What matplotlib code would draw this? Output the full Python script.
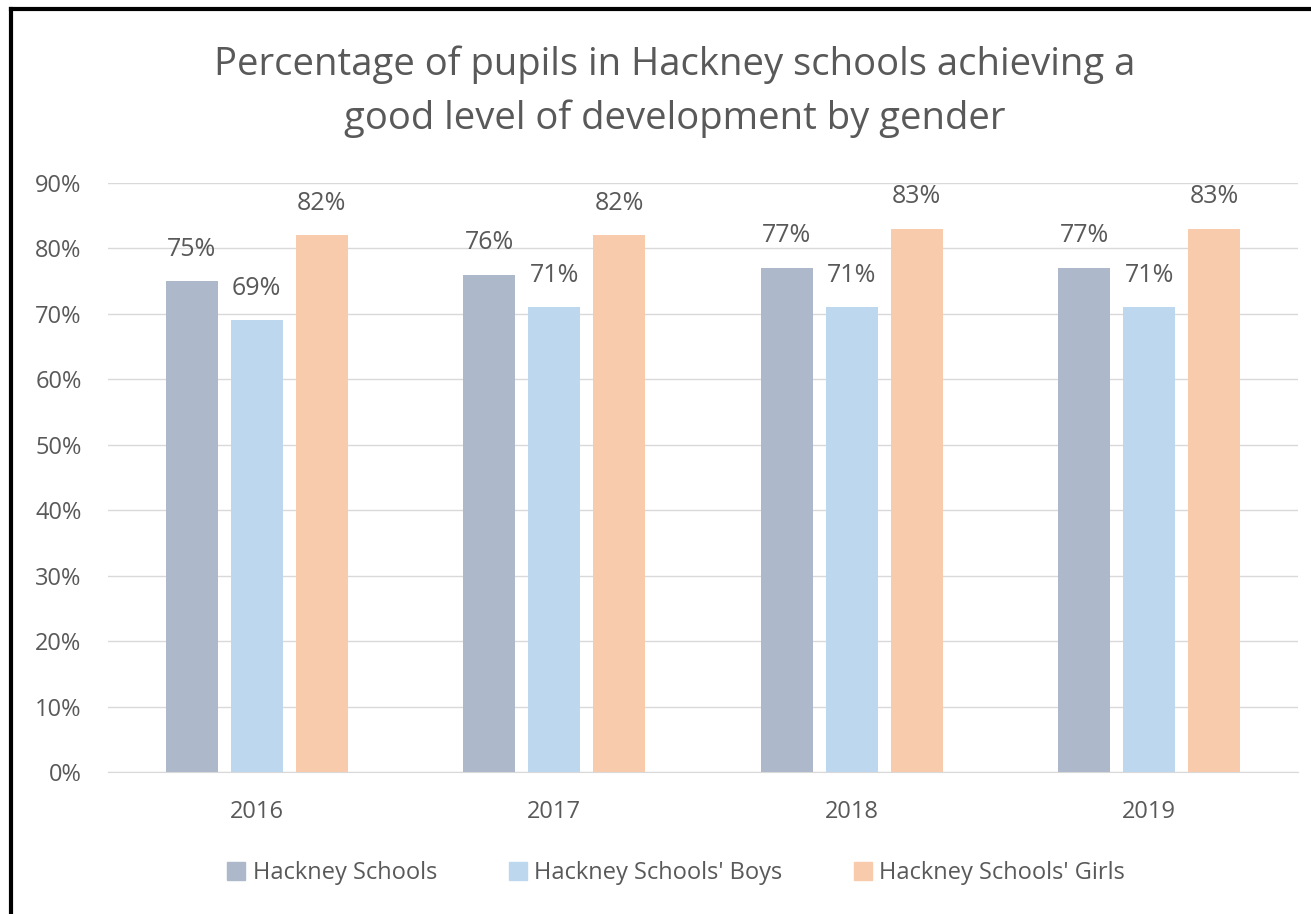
import matplotlib.pyplot as plt
from matplotlib.lines import Line2D
import numpy as np

years = ["2016", "2017", "2018", "2019"]
series_names = ["Hackney Schools", "Hackney Schools' Boys", "Hackney Schools' Girls"]
all_pupils = [75, 76, 77, 77]
boys = [69, 71, 71, 71]
girls = [82, 82, 83, 83]
colors = ["#ADB9CA", "#BDD7EE", "#F8CBAD"]
text_color = "#595959"

plt.rcParams["font.family"] = ["Open Sans", "DejaVu Sans"]

W, H = 1311, 914
fig = plt.figure(figsize=(W / 100, H / 100), dpi=100)
ax = fig.add_axes([108 / W, 1 - 772 / H, 1190 / W, (772 - 183) / H])

x = np.arange(len(years))
width = 0.175
offset = 0.218
for i, (vals, name, col) in enumerate(zip([all_pupils, boys, girls], series_names, colors)):
    pos = x + (i - 1) * offset
    bars = ax.bar(pos, vals, width, color=col, label=name, zorder=3)
    for b, v in zip(bars, vals):
        ax.text(b.get_x() + b.get_width() / 2, v + 3.0, f"{v}%", ha="center", va="bottom",
                fontsize=18, color=text_color, zorder=4)

ax.set_xlim(-0.5, len(years) - 0.5)
ax.set_ylim(0, 90)
ax.set_yticks(range(0, 91, 10))
ax.set_yticklabels([f"{t}%" for t in range(0, 91, 10)])
ax.set_xticks(x)
ax.set_xticklabels(years)
ax.tick_params(axis="both", length=0, labelsize=17, colors=text_color)
ax.tick_params(axis="y", pad=19)
ax.tick_params(axis="x", pad=20)
ax.grid(axis="y", color="#D9D9D9", linewidth=1, zorder=0)
for s in ["top", "right", "left"]:
    ax.spines[s].set_visible(False)
ax.spines["bottom"].set_color("#D9D9D9")

fig.text(0.515, 1 - 92 / H, "Percentage of pupils in Hackney schools achieving a\ngood level of development by gender",
         ha="center", va="center", fontsize=27.5, color=text_color, linespacing=1.52)

handles = [Line2D([], [], marker="s", linestyle="none", markersize=13, color=c) for c in colors]
fig.legend(handles, series_names, loc="center", bbox_to_anchor=(0.512, 1 - 873 / H), ncol=3,
           frameon=False, fontsize=17, labelcolor=text_color, handletextpad=-0.1,
           handlelength=1.6, columnspacing=2.6)

# black frame at the top and left edges
fig.add_artist(Line2D([11 / W, 11 / W], [0, 1 - 9 / H], color="black", linewidth=3, transform=fig.transFigure))
fig.add_artist(Line2D([11 / W, 1], [1 - 9 / H, 1 - 9 / H], color="black", linewidth=3, transform=fig.transFigure))

fig.savefig("out.png", dpi=100)
